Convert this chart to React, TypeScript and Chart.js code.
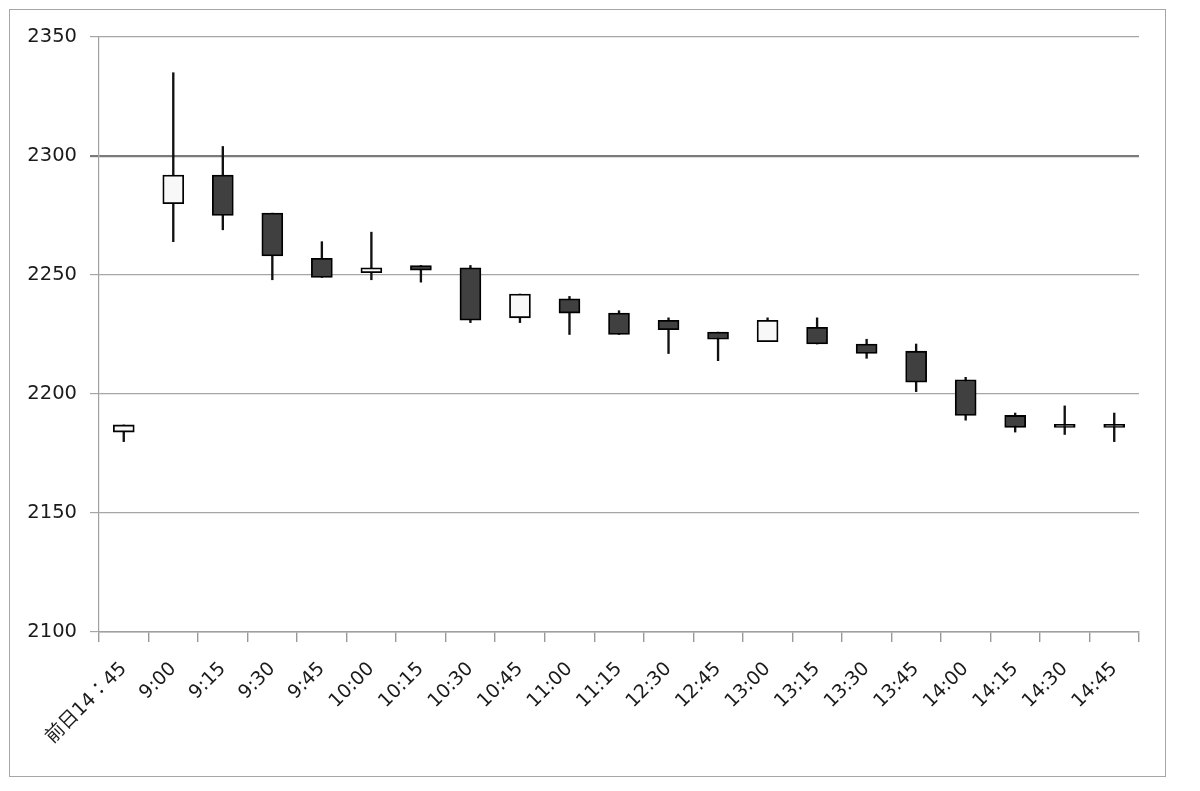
import React, { useEffect, useRef } from "react";
import { Chart, registerables } from "chart.js";

Chart.register(...registerables);

const categories = [
  "前日14：45", "9:00", "9:15", "9:30", "9:45", "10:00", "10:15", "10:30", "10:45", "11:00", "11:15",
  "12:30", "12:45", "13:00", "13:15", "13:30", "13:45", "14:00", "14:15", "14:30", "14:45",
];
const opens = [2184, 2280, 2292, 2276, 2257, 2251, 2254, 2253, 2232, 2240, 2234, 2231, 2226, 2222, 2228, 2221, 2218, 2206, 2191, 2186, 2186];
const closes = [2187, 2292, 2275, 2258, 2249, 2253, 2252, 2231, 2242, 2234, 2225, 2227, 2223, 2231, 2221, 2217, 2205, 2191, 2186, 2186, 2186];
const highs = [2187, 2335, 2304, 2276, 2264, 2268, 2254, 2254, 2242, 2241, 2235, 2232, 2226, 2232, 2232, 2223, 2221, 2207, 2192, 2195, 2192];
const lows = [2180, 2264, 2269, 2248, 2249, 2248, 2247, 2230, 2230, 2225, 2225, 2217, 2214, 2222, 2221, 2215, 2201, 2189, 2184, 2183, 2180];

const yMin = 2100;
const yMax = 2350;
const yStep = 50;
const emphasizedGridValue = 2300;

const FONT = "'DejaVu Sans', 'Noto Sans CJK JP', sans-serif";

export default function App() {
  const canvasRef = useRef<HTMLCanvasElement | null>(null);

  useEffect(() => {
    if (!canvasRef.current) return;
    const bodies = categories.map((_, i) => [opens[i], closes[i]]);
    const wicks = categories.map((_, i) => [lows[i], highs[i]]);
    const bodyFill = categories.map((_, i) => (closes[i] > opens[i] ? "#f8f8f8" : "#404040"));

    const chart = new Chart(canvasRef.current, {
      type: "bar",
      data: {
        labels: categories,
        datasets: [
          {
            label: "body",
            data: bodies as any,
            backgroundColor: bodyFill,
            borderColor: "#000000",
            borderWidth: 1.8,
            borderSkipped: false,
            barThickness: 21,
            minBarLength: 3,
            grouped: false,
            order: 0,
          } as any,
          {
            label: "wick",
            data: wicks as any,
            backgroundColor: "#111111",
            borderWidth: 0,
            barThickness: 1.7,
            grouped: false,
            order: 1,
          } as any,
        ],
      },
      options: {
        animation: false,
        responsive: true,
        maintainAspectRatio: false,
        layout: { padding: { left: 0, top: 27, right: 26, bottom: 0 } },
        plugins: {
          legend: { display: false },
          tooltip: { enabled: false },
        },
        scales: {
          x: {
            type: "category",
            offset: true,
            grid: {
              offset: true,
              drawOnChartArea: false,
              drawTicks: true,
              tickLength: 10,
              color: "#999999",
              lineWidth: 1.4,
            },
            border: { display: true, color: "#a0a0a0", width: 1.4 },
            ticks: {
              autoSkip: false,
              maxRotation: 45,
              minRotation: 45,
              padding: 16,
              color: "#1a1a1a",
              font: { family: FONT, size: 19 },
            },
            afterFit: (s: any) => {
              s.height = 144;
            },
          },
          y: {
            type: "linear",
            min: yMin,
            max: yMax,
            ticks: {
              stepSize: yStep,
              padding: 13,
              color: "#1a1a1a",
              font: { family: FONT, size: 19.5 },
              callback: (v: any) => String(v),
            },
            grid: {
              drawTicks: true,
              tickLength: 9,
              color: (ctx: any) => (ctx.tick && ctx.tick.value === emphasizedGridValue ? "#7a7a7a" : "#a6a6a6"),
              lineWidth: (ctx: any) => (ctx.tick && ctx.tick.value === emphasizedGridValue ? 2.2 : 1.2),
            },
            border: { display: true, color: "#a0a0a0", width: 1.2 },
            afterFit: (s: any) => {
              s.width = 89;
            },
          },
        },
      },
    });
    return () => chart.destroy();
  }, []);

  return (
    <div
      style={{
        marginLeft: 1,
        marginTop: 1,
        width: 1157,
        height: 768,
        border: "1px solid #a6a6a6",
        boxSizing: "border-box",
        position: "relative",
        background: "#ffffff",
      }}
    >
      <canvas ref={canvasRef} />
    </div>
  );
}
